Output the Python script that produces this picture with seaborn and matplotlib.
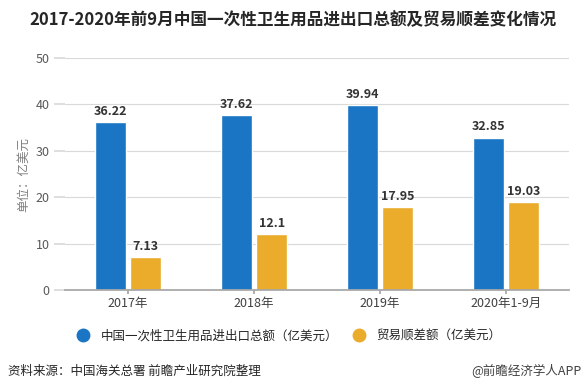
import matplotlib
matplotlib.use("Agg")
import matplotlib.pyplot as plt
from matplotlib.lines import Line2D
import seaborn as sns
import pandas as pd

categories = ["2017年", "2018年", "2019年", "2020年1-9月"]
total_values = [36.22, 37.62, 39.94, 32.85]
surplus_values = [7.13, 12.1, 17.95, 19.03]
total_labels = ["36.22", "37.62", "39.94", "32.85"]
surplus_labels = ["7.13", "12.1", "17.95", "19.03"]
series_names = ["中国一次性卫生用品进出口总额（亿美元）", "贸易顺差额（亿美元）"]
yticks = [0, 10, 20, 30, 40, 50]

sns.set_theme(style="white")
plt.rcParams['font.family'] = ['Noto Sans CJK SC', 'DejaVu Sans']

df = pd.DataFrame({
    "cat": categories * 2,
    "val": total_values + surplus_values,
    "series": [series_names[0]] * 4 + [series_names[1]] * 4,
})

blue = "#1A75C4"
orange = "#EBAC2B"

fig = plt.figure(figsize=(5.85, 3.92), dpi=100)
ax = fig.add_axes([65/585, 1 - 290/392, (569-65)/585, (290-58)/392])

sns.barplot(data=df, x="cat", y="val", hue="series", palette=[blue, orange],
            width=0.56, gap=0.13, ax=ax, legend=False, saturation=1)

for cont, labs in zip(ax.containers, [total_labels, surplus_labels]):
    ax.bar_label(cont, labels=labs, padding=3, fontsize=9, fontweight="bold",
                 color="#333333")

ax.set_ylim(0, 50)
ax.set_yticks(yticks)
ax.yaxis.grid(True, color="#d9d9d9", linewidth=0.8)
ax.set_axisbelow(True)
for s in ["top", "right", "left"]:
    ax.spines[s].set_visible(False)
ax.spines["bottom"].set_color("#a6a6a6")
ax.tick_params(axis="y", length=8, color="#d9d9d9", labelsize=9,
               labelcolor="#595959", pad=3, left=True)
ax.tick_params(axis="x", length=3, color="#a6a6a6", labelsize=9,
               labelcolor="#404040", pad=2, bottom=True)
ax.set_xlabel("")
ax.set_ylabel("单位：亿美元", fontsize=9, color="#7f7f7f", labelpad=4)

fig.text(0.5, 1 - 20/392,
         "2017-2020年前9月中国一次性卫生用品进出口总额及贸易顺差变化情况",
         ha="center", va="center", fontsize=12, fontweight="bold",
         color="#262626")

handles = [Line2D([], [], marker="o", linestyle="", markersize=9,
                  markerfacecolor=c, markeredgecolor=c) for c in (blue, orange)]
fig.legend(handles, series_names, loc="center", ncol=2,
           bbox_to_anchor=(286/585, 1 - 336/392), frameon=False,
           fontsize=9, handletextpad=0.4, columnspacing=0.7,
           labelcolor="#262626")

fig.text(8/585, 1 - 371/392, "资料来源：中国海关总署 前瞻产业研究院整理",
         ha="left", va="center", fontsize=9, color="#262626")
fig.text(582/585, 1 - 371/392, "@前瞻经济学人APP",
         ha="right", va="center", fontsize=9, color="#404040")

fig.savefig("out.png", dpi=100, facecolor="white")
